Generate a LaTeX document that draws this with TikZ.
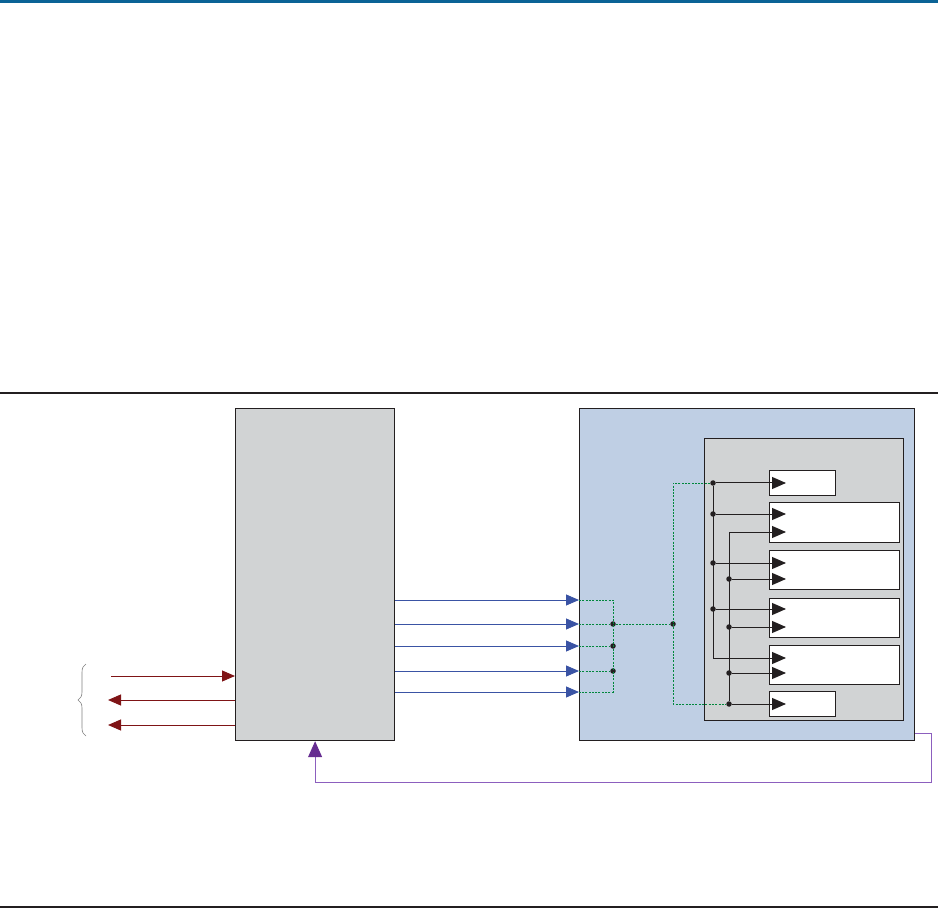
\documentclass[tikz,border=0pt]{standalone}
\usetikzlibrary{arrows.meta,calc,decorations.pathreplacing}
\definecolor{topband}{RGB}{11,99,150}
\definecolor{boxgray}{RGB}{209,211,212}
\definecolor{boxblue}{RGB}{191,207,228}
\definecolor{arrblue}{RGB}{58,83,164}
\definecolor{arrred}{RGB}{127,20,22}
\definecolor{busgreen}{RGB}{0,135,60}
\definecolor{lnpurple}{RGB}{140,95,190}
\definecolor{tippurple}{RGB}{102,45,145}
\definecolor{ink}{RGB}{35,31,32}
\tikzset{
  blk/.style={draw=ink,line width=1.2pt,inner sep=0pt,anchor=north west},
  regbox/.style={blk,fill=white},
  bluearr/.style={draw=arrblue,line width=0.9pt,-{Triangle[length=13pt,width=11pt]}},
  redarr/.style={draw=arrred,line width=1pt,-{Triangle[length=13pt,width=11pt]}},
  greenbus/.style={draw=busgreen,line width=0.9pt,dash pattern=on 2pt off 1.3pt},
  blackbus/.style={draw=ink,line width=1pt},
  tiparr/.style={blackbus,-{Triangle[length=14pt,width=12pt]}},
  dotnode/.style={circle,fill=ink,inner sep=0pt,minimum size=5.5pt},
}
\begin{document}
\begin{tikzpicture}[x=1pt,y=-1pt]
\useasboundingbox (0,0) rectangle (938,909);
% rules
\fill[topband] (0,0) rectangle (938,3.5);
\draw[ink,line width=1.2pt] (0,393) -- (938,393);
\draw[ink,line width=1.2pt] (0,907) -- (938,907);
% main boxes
\node[blk,fill=boxgray,minimum width=159pt,minimum height=332pt] (L) at (235,408) {};
\node[blk,fill=boxblue,minimum width=335pt,minimum height=332pt] (B) at (579,408) {};
\node[blk,fill=boxgray,minimum width=199pt,minimum height=282pt] (G) at (704,438) {};
\node[regbox,minimum width=66pt,minimum height=25pt] (b1) at (769,470) {};
\node[regbox,minimum width=130pt,minimum height=40pt] (b2) at (769,502) {};
\node[regbox,minimum width=130pt,minimum height=39pt] (b3) at (769,550) {};
\node[regbox,minimum width=130pt,minimum height=39pt] (b4) at (769,598) {};
\node[regbox,minimum width=130pt,minimum height=39pt] (b5) at (769,645) {};
\node[regbox,minimum width=66pt,minimum height=25pt] (b6) at (769,691) {};
% blue arrows
\foreach \yy in {600,624,646,671,692}
  \draw[bluearr] (L.east |- 0,\yy) -- (B.west |- 0,\yy);
% red arrows
\draw[redarr] (111,676) -- (L.west |- 0,676);
\draw[redarr] (L.west |- 0,700) -- (108,700);
\draw[redarr] (L.west |- 0,725) -- (108,725);
% brace
\draw[gray,line width=0.6pt,decoration={brace,amplitude=8pt}] decorate {(86,736) -- (86,664)};
% dots
\node[dotnode] (g1) at (613,624) {};
\node[dotnode] (g2) at (613,646) {};
\node[dotnode] (g3) at (613,671) {};
\node[dotnode] (g4) at (673,624) {};
\node[dotnode] (p1) at (713,483) {};
\node[dotnode] (p2) at (713,514) {};
\node[dotnode] (p3) at (713,563) {};
\node[dotnode] (p4) at (713,609) {};
\node[dotnode] (q1) at (729,579) {};
\node[dotnode] (q2) at (729,627) {};
\node[dotnode] (q3) at (729,673) {};
\node[dotnode] (q4) at (729,704) {};
\coordinate (gt) at (613,600);
\coordinate (gb) at (613,692);
\coordinate (vt) at (673,483);
\coordinate (vb) at (673,704);
\coordinate (p5) at (713,658);
\coordinate (q0) at (729,532);
% green dotted bus
\draw[greenbus] (B.west |- gt) -- (gt) -- (gb) -- (B.west |- gb);
\draw[greenbus] (B.west |- g1) -- (g1);
\draw[greenbus] (B.west |- g2) -- (g2);
\draw[greenbus] (B.west |- g3) -- (g3);
\draw[greenbus] (g1) -- (g4);
\draw[greenbus] (p1) -- (vt) -- (vb) -- (q4);
% black buses
\draw[blackbus] (p1) -- (p5);
\draw[blackbus] (q0) -- (q4);
\draw[tiparr] (p1) -- ($(b1.west |- p1)+(17,0)$);
\draw[tiparr] (p2) -- ($(b2.west |- p2)+(17,0)$);
\draw[tiparr] (q0) -- ($(b2.west |- q0)+(17,0)$);
\draw[tiparr] (p3) -- ($(b3.west |- p3)+(17,0)$);
\draw[tiparr] (q1) -- ($(b3.west |- q1)+(17,0)$);
\draw[tiparr] (p4) -- ($(b4.west |- p4)+(17,0)$);
\draw[tiparr] (q2) -- ($(b4.west |- q2)+(17,0)$);
\draw[tiparr] (p5) -- ($(b5.west |- p5)+(17,0)$);
\draw[tiparr] (q3) -- ($(b5.west |- q3)+(17,0)$);
\draw[tiparr] (q4) -- ($(b6.west |- q4)+(17,0)$);
% purple feedback
\coordinate (pc) at (931,782);
\draw[lnpurple,line width=1pt,-{Triangle[length=16pt,width=14pt,color=tippurple]}]
  (B.east |- 0,733) -| (pc) -| (L.south);
\end{tikzpicture}
\end{document}
